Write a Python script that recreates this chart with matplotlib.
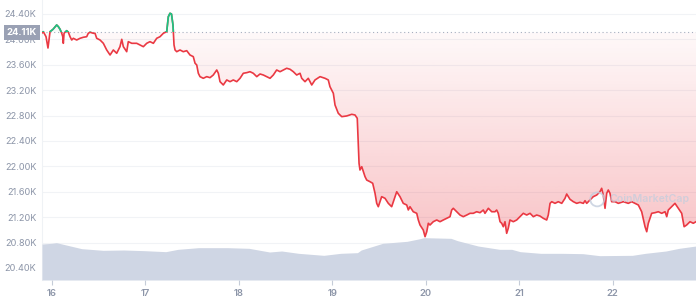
import numpy as np
import matplotlib
matplotlib.use("Agg")
import matplotlib.pyplot as plt
from matplotlib.patches import Rectangle, Ellipse
from matplotlib.path import Path

plt.rcParams['font.family'] = ['Inter', 'DejaVu Sans']

# price (USD), x = day of month (Aug)
days = [15.896, 15.910, 15.939, 15.960, 15.982, 16.014, 16.053, 16.071, 16.089, 16.107,
        16.118, 16.124, 16.132, 16.160, 16.178, 16.196, 16.214, 16.231, 16.267, 16.303,
        16.338, 16.374, 16.391, 16.410, 16.445, 16.463, 16.481, 16.517, 16.552, 16.588,
        16.624, 16.659, 16.695, 16.730, 16.749, 16.766, 16.802, 16.819, 16.856, 16.909,
        16.944, 16.980, 17.016, 17.051, 17.087, 17.123, 17.158, 17.194, 17.230, 17.247,
        17.265, 17.281, 17.297, 17.308, 17.319,
        17.337, 17.372, 17.407, 17.444, 17.479, 17.514, 17.533, 17.551, 17.568, 17.586,
        17.621, 17.658, 17.693, 17.728, 17.765, 17.782, 17.800, 17.835, 17.872, 17.907,
        17.942, 17.979, 18.014, 18.049, 18.086, 18.121, 18.156, 18.193, 18.228, 18.263,
        18.299, 18.335, 18.370, 18.406, 18.442, 18.477, 18.513, 18.549,
        18.584, 18.620, 18.656, 18.674, 18.709, 18.744, 18.781, 18.816, 18.870, 18.923,
        18.958, 18.976, 19.012, 19.030, 19.065, 19.102, 19.155, 19.209, 19.244, 19.268,
        19.279, 19.287, 19.297, 19.316, 19.333, 19.351, 19.369, 19.404, 19.433, 19.458,
        19.476, 19.493, 19.529, 19.565, 19.600, 19.636, 19.672, 19.690, 19.725, 19.760,
        19.797, 19.814, 19.832,
        19.867, 19.904, 19.921, 19.939, 19.974, 19.993, 20.011, 20.028, 20.046, 20.081,
        20.118, 20.153, 20.188, 20.225, 20.260, 20.278, 20.295, 20.332, 20.367, 20.402,
        20.439, 20.474, 20.509, 20.545, 20.581, 20.616, 20.634, 20.670, 20.706, 20.741,
        20.759, 20.776, 20.795, 20.813, 20.830, 20.848, 20.866, 20.883, 20.901, 20.937,
        20.973, 21.009, 21.044, 21.080, 21.116, 21.151, 21.187, 21.222, 21.258, 21.294,
        21.311, 21.330,
        21.348, 21.383, 21.418, 21.455, 21.490, 21.508, 21.543, 21.579, 21.615, 21.650,
        21.686, 21.704, 21.722, 21.757, 21.792, 21.829, 21.864, 21.882, 21.899, 21.918,
        21.936, 21.953, 21.971, 21.989, 22.025, 22.060, 22.114, 22.167, 22.203, 22.238,
        22.274, 22.310, 22.346, 22.364, 22.381, 22.417, 22.452, 22.488, 22.524, 22.560,
        22.578, 22.595, 22.631, 22.666, 22.702, 22.738, 22.764, 22.791, 22.827, 22.862,
        22.891]

price = [24101, 24121, 24042, 23864, 24121, 24159, 24227, 24200, 24159, 24096,
         24042, 23938, 24096, 24137, 24112, 24042, 23990, 24017, 23990, 24017,
         24033, 24042, 24096, 24112, 24096, 24096, 24017, 23990, 23938, 23833,
         23754, 23833, 23781, 23885, 24001, 23885, 23806, 23964, 23938, 23938,
         23912, 23885, 23938, 23964, 23938, 24017, 24042, 24096, 24121, 24357,
         24411, 24400, 24227, 23912, 23833,
         23806, 23833, 23806, 23822, 23754, 23728, 23624, 23597, 23466, 23413,
         23387, 23413, 23397, 23439, 23518, 23466, 23334, 23282, 23361, 23334,
         23361, 23334, 23387, 23466, 23476, 23491, 23466, 23413, 23455, 23439,
         23413, 23387, 23439, 23518, 23491, 23518, 23545, 23529,
         23491, 23439, 23466, 23387, 23334, 23387, 23282, 23361, 23413, 23387,
         23361, 23255, 23151, 22967, 22836, 22783, 22794, 22820, 22809, 22757,
         22368, 22048, 21943, 21995, 21916, 21838, 21785, 21759, 21734, 21576,
         21418, 21365, 21523, 21497, 21418, 21365, 21523, 21601, 21523, 21418,
         21392, 21314, 21365,
         21286, 21261, 21156, 21077, 20998, 20893, 20971, 21104, 21077, 21129,
         21156, 21129, 21156, 21182, 21208, 21313, 21340, 21286, 21234, 21208,
         21234, 21261, 21261, 21286, 21271, 21313, 21261, 21340, 21286, 21286,
         21313, 21261, 21129, 21104, 21050, 21129, 20946, 21025, 21156, 21129,
         21156, 21208, 21261, 21234, 21261, 21208, 21234, 21218, 21182, 21156,
         21234, 21418,
         21444, 21418, 21444, 21418, 21497, 21565, 21482, 21444, 21418, 21434,
         21418, 21460, 21418, 21470, 21523, 21549, 21601, 21655, 21549, 21340,
         21576, 21628, 21576, 21444, 21444, 21418, 21444, 21418, 21444, 21418,
         21392, 21286, 21050, 20971, 21104, 21261, 21271, 21286, 21261, 21286,
         21208, 21313, 21365, 21418, 21340, 21261, 21050, 21077, 21129, 21104,
         21129]

vol_days = [15.896, 16.00, 16.05, 16.32, 16.55, 16.77, 16.99, 17.22, 17.35, 17.57,
            17.88, 18.11, 18.33, 18.46, 18.64, 18.91, 19.09, 19.27, 19.31, 19.54,
            19.80, 19.94, 19.98, 20.27, 20.34, 20.56, 20.79, 20.92, 21.01, 21.23,
            21.46, 21.68, 21.86, 22.21, 22.35, 22.57, 22.71, 22.891]
volume = [32.4, 33.0, 33.6, 28.2, 26.7, 27.0, 26.4, 25.5, 27.6, 29.1,
          29.1, 28.5, 25.2, 26.1, 24.0, 22.2, 24.0, 24.6, 27.0, 33.0,
          34.8, 37.2, 38.1, 37.5, 35.4, 30.6, 27.6, 27.6, 25.5, 24.0,
          24.0, 23.7, 21.9, 22.2, 24.0, 26.1, 28.5, 30.6]

ref_price = 24110
ref_label = "24.11K"
yticks = [20400, 20800, 21200, 21600, 22000, 22400, 22800, 23200, 23600, 24000, 24400]
xticks = [16, 17, 18, 19, 20, 21, 22]

RED = '#ea3943'
GREEN = '#16c784'
LABEL = '#8c95a8'

days = np.array(days)
price = np.array(price)

fig = plt.figure(figsize=(6.96, 3.0), dpi=100)
rect = [42/696, 20/300, 654/696, 280/300]

ax = fig.add_axes(rect)
ax.set_xlim(days[0], days[-1])
ax.set_ylim(20211, 24620)

for s in ['top', 'right', 'bottom']:
    ax.spines[s].set_visible(False)
ax.spines['left'].set_color('#eff2f5')
ax.spines['left'].set_linewidth(0.8)

ax.set_yticks(yticks)
ax.set_yticklabels(['{:.2f}K'.format(v/1000) for v in yticks])
ax.tick_params(axis='y', length=0, pad=4, labelsize=6.6, labelcolor=LABEL)
ax.set_xticks(xticks)
ax.set_xticklabels([str(d) for d in xticks])
ax.tick_params(axis='x', length=3.5, width=0.8, color='#c5ccd8', pad=3,
               labelsize=6.8, labelcolor=LABEL)
for t in ax.get_xticklabels():
    t.set_fontweight('semibold')
ax.grid(axis='y', color='#f1f3f6', linewidth=0.8)
ax.set_axisbelow(True)

# gradient fill below the reference line
below = ax.fill_between(days, price, ref_price, where=price <= ref_price,
                        interpolate=True, facecolor='none', edgecolor='none')
clip = Path.make_compound_path(*below.get_paths())
grad = np.zeros((256, 1, 4))
grad[:, 0, :3] = matplotlib.colors.to_rgb(RED)
grad[:, 0, 3] = np.linspace(0.30, 0.03, 256)
im = ax.imshow(grad, extent=[days[0], days[-1], 20850, ref_price], origin='lower',
               aspect='auto', zorder=1, interpolation='bilinear')
im.set_clip_path(clip, transform=ax.transData)

above = ax.fill_between(days, price, ref_price, where=price >= ref_price,
                        interpolate=True, facecolor='none', edgecolor='none')
clip2 = Path.make_compound_path(*above.get_paths())
grad2 = np.zeros((64, 1, 4))
grad2[:, 0, :3] = matplotlib.colors.to_rgb(GREEN)
grad2[:, 0, 3] = np.linspace(0.03, 0.15, 64)
im2 = ax.imshow(grad2, extent=[days[0], days[-1], ref_price, 24420], origin='lower',
                aspect='auto', zorder=1)
im2.set_clip_path(clip2, transform=ax.transData)
ax.set_xlim(days[0], days[-1])
ax.set_ylim(20211, 24620)

# reference line
ax.axhline(ref_price, color='#a6afc0', linewidth=0.8, linestyle=(0, (1, 2.5)), zorder=2)

# price line: red below reference, green above
ax.plot(days, price, color=RED, linewidth=1.2, zorder=3)
g, = ax.plot(days, price, color=GREEN, linewidth=1.2, zorder=4)
top_box = Rectangle((days[0], ref_price), days[-1] - days[0], 1000, transform=ax.transData)
g.set_clip_path(top_box)

# current price tag on the axis
ax.text(-0.0075, ref_price, ref_label, transform=ax.get_yaxis_transform(),
        ha='right', va='center', fontsize=6.8, fontweight='bold', color='white',
        zorder=10, clip_on=False,
        bbox=dict(boxstyle='square,pad=0.32', facecolor='#9aa1b4', edgecolor='none'))

# watermark
ax.add_patch(Ellipse((0.849, 0.288), 14/654, 14/280, transform=ax.transAxes, fill=False,
                     edgecolor='#c3cddd', linewidth=1.3, alpha=0.8, zorder=5))
ax.text(0.868, 0.288, 'CoinMarketCap', transform=ax.transAxes, ha='left', va='center',
        fontsize=7.6, fontweight='semibold', color='#c3cddd', alpha=0.75, zorder=5)

# volume axis drawn over the grid lines
axv = fig.add_axes(rect)
axv.patch.set_visible(False)
axv.fill_between(vol_days, 0, volume, color='#cfd6e4', linewidth=0)
axv.set_xlim(days[0], days[-1])
axv.set_ylim(0, 252)
axv.axis('off')

plt.savefig('out.png', dpi=100)
